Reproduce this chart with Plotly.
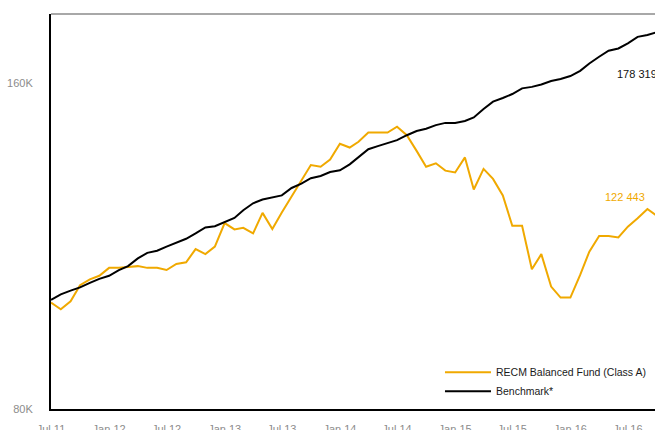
import math
import pandas as pd
import plotly.graph_objects as go

# Monthly dates, Jul 2011 onwards
months = [d.strftime("%Y-%m-%d") for d in pd.date_range("2011-07-01", periods=64, freq="MS")]

# Values (thousands of rand)
fund_k = [100.3, 98.9, 100.6, 104.1, 105.4, 106.2, 108.0, 108.0, 108.2, 108.4,
          108.0, 108.0, 107.5, 108.9, 109.3, 112.4, 111.2, 113.0, 118.8, 117.2,
          117.6, 116.2, 121.4, 117.3, 121.5, 125.8, 130.2, 134.4, 133.9, 136.0,
          140.6, 139.5, 141.2, 144.0, 144.0, 144.0, 145.8, 143.2, 138.5, 133.9,
          134.9, 132.8, 132.3, 136.6, 127.6, 133.3, 130.5, 126.0, 118.1, 118.1,
          107.7, 111.2, 103.8, 101.4, 101.4, 106.4, 111.8, 115.6, 115.6, 115.2,
          117.9, 120.0, 122.4, 120.6]
bench_k = [100.9, 102.1, 102.9, 103.6, 104.6, 105.5, 106.2, 107.5, 108.4, 110.2,
           111.5, 112.0, 113.0, 113.9, 114.9, 116.2, 117.7, 118.0, 119.0, 120.1,
           122.1, 123.9, 124.9, 125.5, 126.0, 128.0, 129.2, 130.7, 131.3, 132.4,
           132.9, 134.6, 136.7, 139.0, 139.9, 140.9, 141.7, 143.2, 144.5, 145.2,
           146.3, 147.0, 147.0, 147.6, 148.7, 151.4, 153.8, 155.0, 156.3, 158.2,
           158.7, 159.5, 160.7, 161.4, 162.4, 164.2, 166.8, 169.2, 171.4, 172.2,
           174.1, 176.5, 177.2, 178.3]

fund = [v * 1000 for v in fund_k]
bench = [v * 1000 for v in bench_k]

series_names = ["RECM Balanced Fund (Class A)", "Benchmark*"]
end_labels = ["122 443", "178 319"]
y_tick_vals = [80000, 160000]
y_tick_text = ["80K", "160K"]

ORANGE = "#F0A900"
FONT = "Liberation Sans, Arial, sans-serif"

fig = go.Figure()
fig.add_trace(go.Scatter(x=months, y=fund, mode="lines", name=series_names[0],
                         line=dict(color=ORANGE, width=2)))
fig.add_trace(go.Scatter(x=months, y=bench, mode="lines", name=series_names[1],
                         line=dict(color="#000000", width=2)))

# log axis: annotation y is given in log10 units
fig.add_annotation(x=months[62], y=math.log10(fund[62]), text=end_labels[0], showarrow=False,
                   xanchor="right", yanchor="middle", xshift=0, yshift=12,
                   font=dict(family=FONT, size=11, color=ORANGE))
fig.add_annotation(x=months[62], y=math.log10(bench[62]), text=end_labels[1], showarrow=False,
                   xanchor="left", yanchor="middle", xshift=-32, yshift=-39,
                   font=dict(family=FONT, size=11, color="#111111"))

fig.add_shape(type="line", xref="paper", yref="paper", x0=0, x1=1, y0=1, y1=1,
              line=dict(color="#a8a8a8", width=2))

fig.update_layout(
    width=655, height=430,
    margin=dict(l=51, r=0, t=14, b=21, autoexpand=False),
    plot_bgcolor="white", paper_bgcolor="white",
    font=dict(family=FONT),
    showlegend=True,
    legend=dict(x=0.644, y=0.13, xanchor="left", yanchor="top",
                bgcolor="rgba(0,0,0,0)", font=dict(family=FONT, size=10.5, color="#1a1a1a"),
                itemwidth=46, tracegroupgap=0),
    xaxis=dict(type="date", range=["2011-07-01", "2016-09-25"],
               tick0="2011-07-01", dtick="M6", tickformat="%b %y",
               showgrid=False, zeroline=False, showline=True, automargin=False,
               linecolor="black", linewidth=2, ticks="",
               tickfont=dict(family=FONT, size=11, color="#8c8c8c"),
               ticklabelstandoff=9),
    yaxis=dict(type="log", range=[4.90309, 5.26788],
               tickvals=y_tick_vals, ticktext=y_tick_text,
               showgrid=False, zeroline=False, showline=True, automargin=False,
               linecolor="black", linewidth=2, ticks="",
               tickfont=dict(family=FONT, size=11, color="#8c8c8c"),
               ticklabelstandoff=14),
)

fig.write_html("out.html", config={"displayModeBar": False},
               post_script="document.body.style.margin='0';document.body.style.overflow='hidden';")
